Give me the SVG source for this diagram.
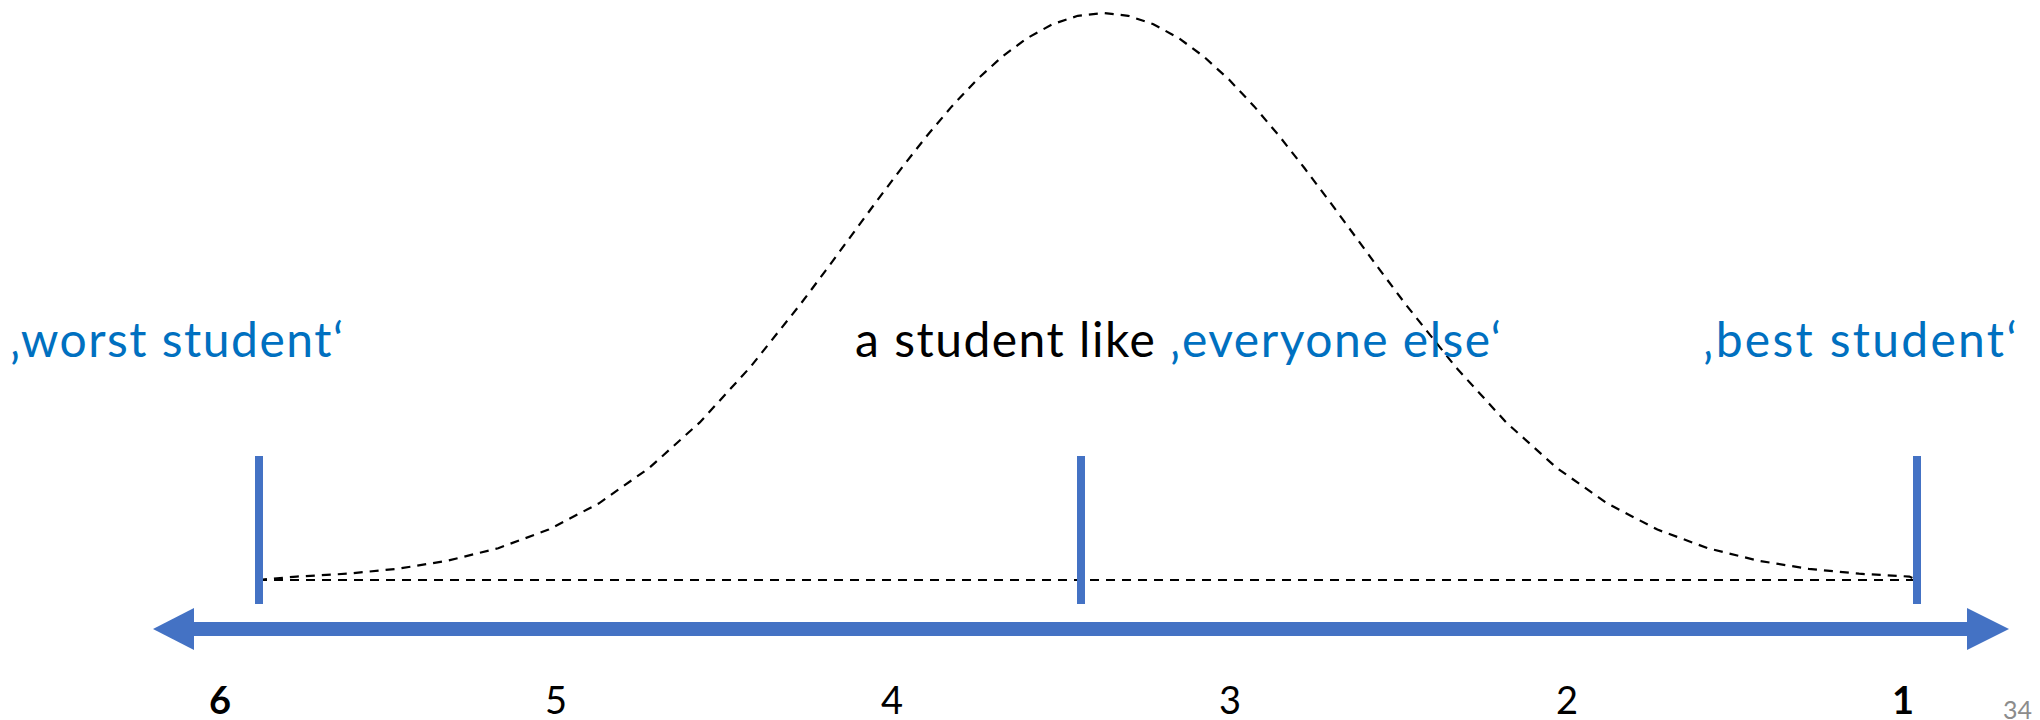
<svg xmlns="http://www.w3.org/2000/svg" width="2040" height="720" viewBox="0 0 2040 720">
  <style>
    .lbl { font-family: Lato, "Open Sans", "Liberation Sans", sans-serif; font-size: 48px; letter-spacing: 1.5px; }
    .wide { letter-spacing: 2.3px; }
    .blue { fill: #0070C0; }
    .black { fill: #000000; }
    .num { font-family: Lato, "Liberation Sans", sans-serif; font-size: 38px; fill: #000; text-anchor: middle; }
    .bold { font-weight: bold; }
    .tick { fill: #4472C4; }
    .dash { fill: none; stroke: #000; stroke-width: 2.2; stroke-dasharray: 9 7; }
    .pg { font-family: Lato, "Liberation Sans", sans-serif; font-size: 25px; fill: #8C8C8C; }
  </style>
  <rect width="2040" height="720" fill="#ffffff"/>

  <g id="connectors">
    <path class="dash" d="M258,580 H1917"/>
    <path class="dash" d="M258,580 L296.6,576.6 L347,573.7 L397.4,568.8 L447.8,560.7 L498.2,548.2 L548.6,529.6 L599,503.3 L649.4,467.8 L699.8,422.4 L750.2,367.2 L800.6,304 L825.8,270.4 L851,236.1 L876.2,201.8 L901.4,168.3 L926.6,136.2 L951.8,106.4 L977,79.6 L1002.2,56.6 L1027.4,38 L1052.6,24.2 L1077.8,15.8 L1103,13 L1128.2,15.8 L1153.4,24.2 L1178.6,38 L1203.8,56.6 L1229,79.6 L1254.2,106.4 L1279.4,136.2 L1304.6,168.3 L1329.8,201.8 L1355,236.1 L1380.2,270.4 L1405.4,304 L1455.8,367.2 L1506.2,422.4 L1556.6,467.8 L1607,503.3 L1657.4,529.6 L1707.8,548.2 L1758.2,560.7 L1808.6,568.8 L1859,573.7 L1909.4,576.6 L1917,580"/>
  </g>

  <g id="axis">
    <rect class="tick" x="194" y="622" width="1773" height="14"/>
    <polygon class="tick" points="153,629 194,608 194,650"/>
    <polygon class="tick" points="2009,629 1967,608 1967,650"/>
  </g>

  <g id="tick-worst"><rect class="tick" x="255" y="456" width="8" height="148"/></g>
  <g id="tick-average"><rect class="tick" x="1077" y="456" width="8" height="148"/></g>
  <g id="tick-best"><rect class="tick" x="1913" y="456" width="8" height="148"/></g>

  <g id="label-worst"><text class="lbl blue" x="10" y="357" letter-spacing="1.7">‚worst student‘</text></g>
  <g id="label-average"><text class="lbl black" x="855" y="357">a student like <tspan class="blue">‚everyone else‘</tspan></text></g>
  <g id="label-best"><text class="lbl wide blue" x="1703" y="357">‚best student‘</text></g>

  <g id="grades">
    <text class="num bold" x="220" y="714">6</text>
    <text class="num" x="556" y="714">5</text>
    <text class="num" x="892" y="714">4</text>
    <text class="num" x="1230" y="714">3</text>
    <text class="num" x="1567" y="714">2</text>
    <text class="num bold" x="1903" y="714">1</text>
  </g>

  <g id="page-number"><text class="pg" x="2003" y="719">34</text></g>
</svg>
